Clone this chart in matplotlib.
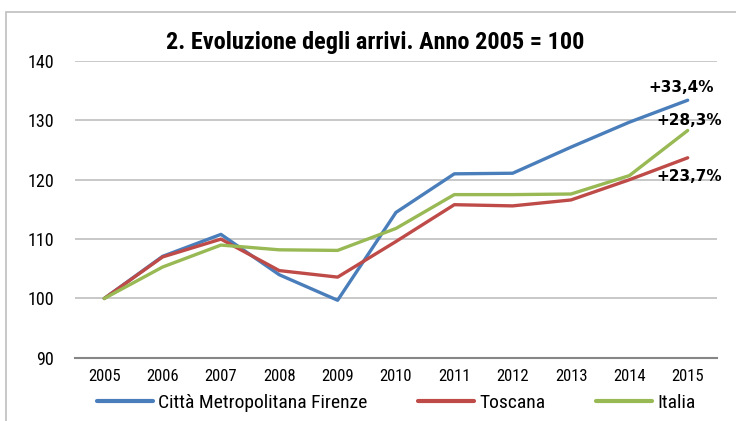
import matplotlib.pyplot as plt
from matplotlib.patches import Rectangle

years = [2005, 2006, 2007, 2008, 2009, 2010, 2011, 2012, 2013, 2014, 2015]
firenze = [100, 107.1, 110.8, 104.0, 99.7, 114.5, 121.0, 121.1, 125.5, 129.7, 133.4]
toscana = [100, 107.0, 110.0, 104.7, 103.6, 109.6, 115.8, 115.6, 116.6, 120.0, 123.7]
italia = [100, 105.3, 109.0, 108.2, 108.1, 111.8, 117.5, 117.5, 117.6, 120.7, 128.3]
labels_end = ['+33,4%', '+28,3%', '+23,7%']

font = ['Roboto Condensed', 'DejaVu Sans']
plt.rcParams['font.family'] = font

fig = plt.figure(figsize=(7.36, 4.21), dpi=100)
ax = fig.add_axes([0.102, 0.150, 0.872, 0.705])

# light grey frame around the chart (only top and left are visible)
fig.patches.append(Rectangle((6 / 736, -0.1), 2, 1 - 12 / 421 + 0.1, transform=fig.transFigure,
                             fill=False, edgecolor='#BFBFBF', linewidth=1.2))

x = list(range(len(years)))
ax.plot(x, firenze, color='#4A7EBB', linewidth=2.4, label='Città Metropolitana Firenze', solid_capstyle='round')
ax.plot(x, toscana, color='#BE4B48', linewidth=2.4, label='Toscana', solid_capstyle='round')
ax.plot(x, italia, color='#98B954', linewidth=2.4, label='Italia', solid_capstyle='round')

ax.set_xlim(-0.5, len(years) - 0.5)
ax.set_ylim(90, 140)
ax.set_yticks([90, 100, 110, 120, 130, 140])
ax.set_xticks(x)
ax.set_xticklabels([str(y) for y in years], fontsize=12)
ax.tick_params(axis='y', labelsize=13, length=0, pad=15)
ax.tick_params(axis='x', length=0, pad=8)
ax.grid(axis='y', color='#BFBFBF', linewidth=1.2)
ax.set_axisbelow(True)
for s in ['top', 'right', 'left']:
    ax.spines[s].set_visible(False)
ax.spines['bottom'].set_color('#868686')
ax.spines['bottom'].set_linewidth(1.5)

bold = ['DejaVu Sans']
ax.text(9.88, 135.5, labels_end[0], fontsize=11, fontweight='bold', family=bold, ha='center', va='center')
ax.text(10.03, 130.0, labels_end[1], fontsize=11, fontweight='bold', family=bold, ha='center', va='center')
ax.text(10.03, 120.5, labels_end[2], fontsize=11, fontweight='bold', family=bold, ha='center', va='center')

fig.text(0.51, 1 - 42 / 421, '2. Evoluzione degli arrivi. Anno 2005 = 100', fontsize=17.5,
         fontweight='bold', ha='center', va='center')

leg = fig.legend(loc='center', bbox_to_anchor=(0.538, 1 - 403 / 421), ncol=3, frameon=False,
                 fontsize=14, handlelength=2.9, columnspacing=2.6, handletextpad=0.25)
for line in leg.get_lines():
    line.set_linewidth(3)

fig.savefig('out.png', dpi=100)
